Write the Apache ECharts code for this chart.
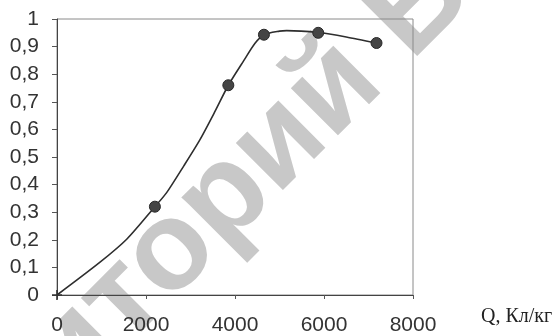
<!DOCTYPE html>
<html>
<head>
<meta charset="utf-8">
<script src="https://cdn.jsdelivr.net/npm/echarts@6/dist/echarts.min.js"></script>
<style>
html,body{margin:0;padding:0;background:#fff;}
#chart{width:558px;height:336px;}
</style>
</head>
<body>
<div id="chart"></div>
<script>
// Curve (Q, Кл/кг vs. value)
var curveQ = [0, 960, 1566, 2200, 2464, 2850, 3213, 3550, 3850, 4200, 4450, 4650, 5000, 5160, 5870, 6500, 7180];
var curveV = [0, 0.118, 0.202, 0.32, 0.371, 0.468, 0.563, 0.665, 0.76, 0.85, 0.912, 0.943, 0.956, 0.958, 0.951, 0.935, 0.913];
// Measured points (markers)
var pointQ = [2200, 3850, 4650, 5870, 7180];
var pointV = [0.32, 0.76, 0.943, 0.95, 0.913];
var originQ = [0];
var originV = [0];
var xTicks = [0, 2000, 4000, 6000, 8000];
var yTicks = [0, 0.1, 0.2, 0.3, 0.4, 0.5, 0.6, 0.7, 0.8, 0.9, 1];
var axisTitle = 'Q, Кл/кг';
var watermark = 'Репозиторий БГУ';

function zip(a, b) { return a.map(function (v, i) { return [v, b[i]]; }); }

// ---- watermark (decoration) ----
var wmFamily = '"Liberation Sans"';
var wmWeight = 'bold';
var mctx = document.createElement('canvas').getContext('2d');
mctx.font = wmWeight + ' 100px ' + wmFamily;
function em(s) { return mctx.measureText(s).width / 100; }
var F = 126, theta = 45 * Math.PI / 180;
var ux = Math.cos(theta), uy = -Math.sin(theta), vx = -Math.sin(theta), vy = -Math.cos(theta);
var anchorC = [334, 89];                       // centre of "й"
var aY = em('Репозитори') + em('й') / 2;
var hY = 0.26, boxDrop = 0.245;
var wmX = anchorC[0] - aY * F * ux - (hY + boxDrop) * F * vx;
var wmY = anchorC[1] - aY * F * uy - (hY + boxDrop) * F * vy;

var chart = echarts.init(document.getElementById('chart'), null, {renderer: 'canvas'});

chart.setOption({
  animation: false,
  backgroundColor: '#ffffff',
  grid: {left: 57, right: 145, top: 19, bottom: 40, show: true, borderColor: '#8a8a8a', borderWidth: 1},
  xAxis: {
    type: 'value', min: xTicks[0], max: xTicks[xTicks.length - 1], interval: 2000,
    axisLine: {show: true, onZero: false, lineStyle: {color: '#444', width: 1}},
    axisTick: {show: true, inside: false, length: 4, lineStyle: {color: '#555'}},
    axisLabel: {color: '#333', fontSize: 21, fontFamily: 'Liberation Sans', margin: 20,
      formatter: function (v) { return String(v); }},
    splitLine: {show: false}
  },
  yAxis: {
    type: 'value', min: yTicks[0], max: yTicks[yTicks.length - 1], interval: 0.1,
    axisLine: {show: true, onZero: false, lineStyle: {color: '#444', width: 1}},
    axisTick: {show: true, inside: false, length: 5, lineStyle: {color: '#555'}},
    axisLabel: {color: '#333', fontSize: 21, fontFamily: 'Liberation Sans', margin: 18,
      formatter: function (v) { return String(Math.round(v * 10) / 10).replace('.', ','); }},
    splitLine: {show: false}
  },
  graphic: [
    {
      type: 'text', x: wmX, y: wmY, rotation: theta, z: -10, silent: true,
      style: {text: watermark, font: wmWeight + ' ' + F + 'px ' + wmFamily, fill: '#c8c8c8',
        textAlign: 'left', verticalAlign: 'bottom'}
    },
    {
      type: 'text', left: 481, top: 307,
      style: {text: axisTitle, font: '20px "Liberation Serif"', fill: '#222'}
    }
  ],
  series: [
    {
      type: 'line', data: zip(curveQ, curveV), smooth: 0.25, showSymbol: false, symbol: 'none',
      lineStyle: {color: '#2e2e2e', width: 1.6}, z: 3
    },
    {
      type: 'scatter', data: zip(pointQ, pointV), symbol: 'circle', symbolSize: 11,
      itemStyle: {color: '#454545', borderColor: '#2a2a2a', borderWidth: 1, opacity: 1}, z: 4
    },
    {
      type: 'scatter', data: zip(originQ, originV),
      symbol: 'path://M0,4.2h10v1.6H0z M4.2,0h1.6v10H4.2z', symbolSize: 10,
      itemStyle: {color: '#333', opacity: 1}, z: 4
    }
  ]
});
</script>
</body>
</html>
